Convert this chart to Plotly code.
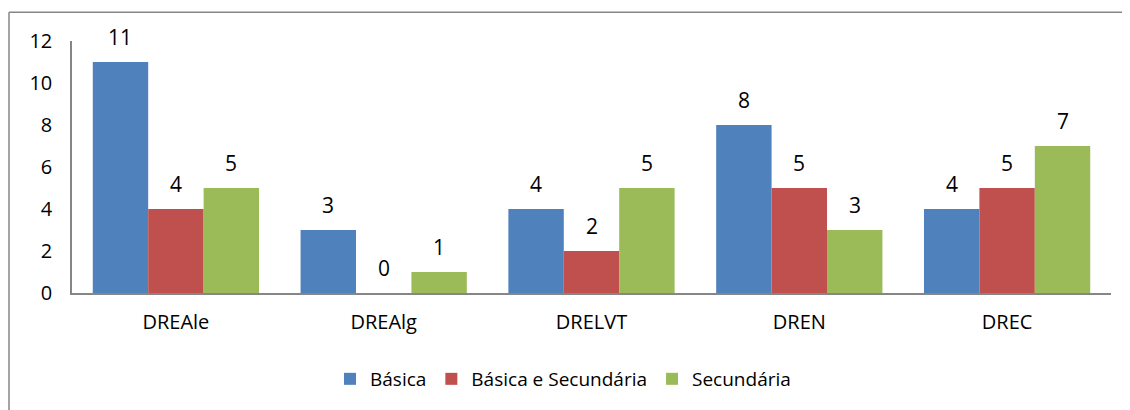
import plotly.graph_objects as go

categories = ["DREAle", "DREAlg", "DRELVT", "DREN", "DREC"]
basica = [11, 3, 4, 8, 4]
basica_secundaria = [4, 0, 2, 5, 5]
secundaria = [5, 1, 5, 3, 7]

series = [
    ("Básica", basica, "#4F81BD"),
    ("Básica e Secundária", basica_secundaria, "#C0504D"),
    ("Secundária", secundaria, "#9BBB59"),
]

FONT = "Open Sans"
# page body has an 8px default margin, so the figure is 8px smaller and shifted
W, H = 1122, 402
M = {"l": 64, "r": 19, "t": 33, "b": 114}
plot_w = W - M["l"] - M["r"]
plot_h = H - M["t"] - M["b"]

fig = go.Figure()
for name, values, color in series:
    fig.add_trace(
        go.Bar(
            x=categories,
            y=values,
            name=name,
            marker={"color": color, "line": {"width": 0}},
        )
    )

# data labels above each bar, Excel style (a bit of space above the bar top)
bargap = 0.2
bar_px = plot_w / len(categories) * (1 - bargap) / len(series)
for i, (name, values, color) in enumerate(series):
    for cat, val in zip(categories, values):
        fig.add_annotation(
            x=cat,
            y=val,
            text=str(val),
            showarrow=False,
            xshift=(i - 1) * bar_px,
            yshift=9,
            yanchor="bottom",
            font={"family": FONT, "size": 21, "color": "#000000"},
        )

# outer chart frame (left and top edges visible)
fx0 = (1 - M["l"]) / plot_w
fy1 = (plot_h + M["t"] - 4) / plot_h
fig.add_shape(type="line", xref="paper", yref="paper", x0=fx0, x1=fx0, y0=-1, y1=fy1,
              line={"color": "#868686", "width": 1.5})
fig.add_shape(type="line", xref="paper", yref="paper", x0=fx0, x1=1.2, y0=fy1, y1=fy1,
              line={"color": "#868686", "width": 1.5})

fig.update_layout(
    width=W,
    height=H,
    margin=M,
    paper_bgcolor="white",
    plot_bgcolor="white",
    barmode="group",
    bargap=bargap,
    bargroupgap=0,
    font={"family": FONT, "size": 19, "color": "#000000"},
    showlegend=True,
    legend={
        "orientation": "h",
        "x": (555 - M["l"]) / plot_w,
        "xanchor": "center",
        "y": -87 / plot_h,
        "yanchor": "middle",
        "font": {"family": FONT, "size": 19},
        "itemwidth": 30,
    },
    xaxis={
        "showline": True,
        "linecolor": "#868686",
        "linewidth": 1.5,
        "ticks": "",
        "showgrid": False,
        "tickfont": {"size": 20},
        "ticklabelstandoff": 10,
        "automargin": False,
    },
    yaxis={
        "range": [0, 12],
        "dtick": 2,
        "showline": True,
        "linecolor": "#868686",
        "linewidth": 1.5,
        "ticks": "",
        "showgrid": False,
        "zeroline": False,
        "tickfont": {"size": 20},
        "ticklabelstandoff": 14,
        "automargin": False,
    },
)

fig.write_html("out.html")
